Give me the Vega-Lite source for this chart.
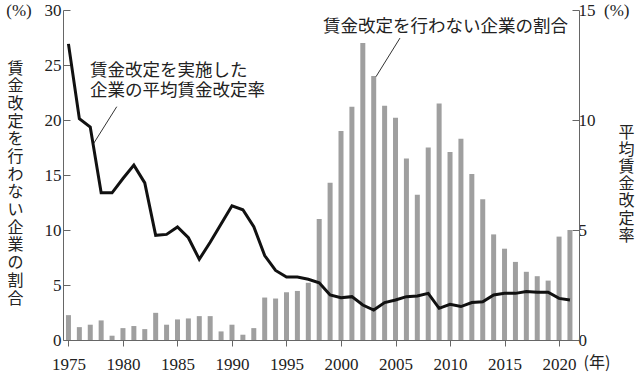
{
  "$schema": "https://vega.github.io/schema/vega-lite/v6.json",
  "width": 516,
  "height": 330,
  "autosize": "none",
  "padding": {"left": 63, "top": 10, "right": 61, "bottom": 32},
  "background": "white",
  "config": {
    "view": {"stroke": null},
    "axis": {
      "grid": false,
      "domainColor": "#666666",
      "tickColor": "#666666",
      "labelFont": "Liberation Serif, Times New Roman, serif",
      "labelFontSize": 17,
      "labelColor": "#222222",
      "titleFont": "Noto Sans CJK JP",
      "titleFontWeight": "normal",
      "titleColor": "#222222"
    }
  },
  "datasets": {
    "bars": [
      {"year": 1975, "v": 2.26}, {"year": 1976, "v": 1.17}, {"year": 1977, "v": 1.39}, {"year": 1978, "v": 1.78},
      {"year": 1979, "v": 0.39}, {"year": 1980, "v": 1.08}, {"year": 1981, "v": 1.27}, {"year": 1982, "v": 0.99},
      {"year": 1983, "v": 2.47}, {"year": 1984, "v": 1.39}, {"year": 1985, "v": 1.87}, {"year": 1986, "v": 1.96},
      {"year": 1987, "v": 2.17}, {"year": 1988, "v": 2.17}, {"year": 1989, "v": 0.78}, {"year": 1990, "v": 1.39},
      {"year": 1991, "v": 0.48}, {"year": 1992, "v": 1.08}, {"year": 1993, "v": 3.86}, {"year": 1994, "v": 3.77},
      {"year": 1995, "v": 4.34}, {"year": 1996, "v": 4.46}, {"year": 1997, "v": 5.2}, {"year": 1998, "v": 11.0},
      {"year": 1999, "v": 14.3}, {"year": 2000, "v": 19.0}, {"year": 2001, "v": 21.2}, {"year": 2002, "v": 27.0},
      {"year": 2003, "v": 24.0}, {"year": 2004, "v": 21.3}, {"year": 2005, "v": 20.2}, {"year": 2006, "v": 16.5},
      {"year": 2007, "v": 13.2}, {"year": 2008, "v": 17.5}, {"year": 2009, "v": 21.5}, {"year": 2010, "v": 17.1},
      {"year": 2011, "v": 18.3}, {"year": 2012, "v": 15.1}, {"year": 2013, "v": 12.8}, {"year": 2014, "v": 9.6},
      {"year": 2015, "v": 8.3}, {"year": 2016, "v": 7.1}, {"year": 2017, "v": 6.2}, {"year": 2018, "v": 5.8},
      {"year": 2019, "v": 5.4}, {"year": 2020, "v": 9.4}, {"year": 2021, "v": 10.0}
    ],
    "rate": [
      {"year": 1975, "rate": 13.46}, {"year": 1976, "rate": 10.06}, {"year": 1977, "rate": 9.68}, {"year": 1978, "rate": 6.69},
      {"year": 1979, "rate": 6.69}, {"year": 1980, "rate": 7.34}, {"year": 1981, "rate": 7.95}, {"year": 1982, "rate": 7.14},
      {"year": 1983, "rate": 4.76}, {"year": 1984, "rate": 4.8}, {"year": 1985, "rate": 5.14}, {"year": 1986, "rate": 4.65},
      {"year": 1987, "rate": 3.67}, {"year": 1988, "rate": 4.44}, {"year": 1989, "rate": 5.27}, {"year": 1990, "rate": 6.1},
      {"year": 1991, "rate": 5.92}, {"year": 1992, "rate": 5.15}, {"year": 1993, "rate": 3.84}, {"year": 1994, "rate": 3.16},
      {"year": 1995, "rate": 2.86}, {"year": 1996, "rate": 2.86}, {"year": 1997, "rate": 2.76}, {"year": 1998, "rate": 2.6},
      {"year": 1999, "rate": 2.05}, {"year": 2000, "rate": 1.92}, {"year": 2001, "rate": 1.97}, {"year": 2002, "rate": 1.59},
      {"year": 2003, "rate": 1.36}, {"year": 2004, "rate": 1.7}, {"year": 2005, "rate": 1.82}, {"year": 2006, "rate": 1.97},
      {"year": 2007, "rate": 2.0}, {"year": 2008, "rate": 2.12}, {"year": 2009, "rate": 1.44}, {"year": 2010, "rate": 1.62},
      {"year": 2011, "rate": 1.52}, {"year": 2012, "rate": 1.7}, {"year": 2013, "rate": 1.74}, {"year": 2014, "rate": 2.05},
      {"year": 2015, "rate": 2.12}, {"year": 2016, "rate": 2.12}, {"year": 2017, "rate": 2.2}, {"year": 2018, "rate": 2.17},
      {"year": 2019, "rate": 2.17}, {"year": 2020, "rate": 1.89}, {"year": 2021, "rate": 1.82}
    ],
    "notes": [
      {"year": 1998.35, "v": 28.48, "label": "賃金改定を行わない企業の割合"},
      {"year": 1976.98, "v": 24.48, "label": "賃金改定を実施した"},
      {"year": 1976.98, "v": 22.66, "label": "企業の平均賃金改定率"}
    ],
    "leaders": [
      {"year": 2005.41, "v": 27.45, "year2": 2003.21, "v2": 23.94},
      {"year": 1979.43, "v": 21.21, "year2": 1977.28, "v2": 17.82}
    ]
  },
  "layer": [
    {
      "layer": [
        {
          "data": {"name": "bars"},
          "mark": {"type": "bar", "width": 5, "color": "#9f9f9f"},
          "encoding": {
            "x": {
              "field": "year", "type": "quantitative",
              "scale": {"domain": [1974.5, 2021.83], "nice": false, "zero": false, "padding": 0},
              "axis": {
                "values": [1975, 1980, 1985, 1990, 1995, 2000, 2005, 2010, 2015, 2020],
                "format": "d",
                "tickSize": 6,
                "labelPadding": 10,
                "title": "(年)",
                "titleFontSize": 16,
                "titleAnchor": "end",
                "titleAlign": "left",
                "titleBaseline": "middle",
                "titleX": 520,
                "titleY": 22
              }
            },
            "y": {
              "field": "v", "type": "quantitative",
              "scale": {"domain": [0, 30], "nice": false},
              "axis": {
                "values": [0, 5, 10, 15, 20, 25, 30],
                "tickSize": -7,
                "labelPadding": 9,
                "labelExpr": "datum.value == 30 ? '(%)\u2002 30' : datum.label",
                "title": ["賃", "金", "改", "定", "を", "行", "わ", "な", "い", "企", "業", "の", "割", "合"],
                "titleAngle": 0,
                "titleFontSize": 16,
                "titleLineHeight": 17.7,
                "titleAlign": "center",
                "titleBaseline": "middle",
                "titleX": -48,
                "titleY": 58
              }
            }
          }
        },
        {
          "data": {"name": "notes"},
          "mark": {"type": "text", "align": "left", "baseline": "middle", "font": "Noto Sans CJK JP", "fontSize": 17.5, "color": "#222222"},
          "encoding": {
            "x": {"field": "year", "type": "quantitative", "scale": {"domain": [1974.5, 2021.83], "nice": false, "zero": false, "padding": 0}},
            "y": {"field": "v", "type": "quantitative", "scale": {"domain": [0, 30], "nice": false}},
            "text": {"field": "label"}
          }
        },
        {
          "data": {"name": "leaders"},
          "mark": {"type": "rule", "color": "#333333", "strokeWidth": 1},
          "encoding": {
            "x": {"field": "year", "type": "quantitative", "scale": {"domain": [1974.5, 2021.83], "nice": false, "zero": false, "padding": 0}},
            "y": {"field": "v", "type": "quantitative", "scale": {"domain": [0, 30], "nice": false}},
            "x2": {"field": "year2"},
            "y2": {"field": "v2"}
          }
        }
      ]
    },
    {
      "data": {"name": "rate"},
      "mark": {"type": "line", "color": "#111111", "strokeWidth": 3},
      "encoding": {
        "x": {"field": "year", "type": "quantitative", "scale": {"domain": [1974.5, 2021.83], "nice": false, "zero": false, "padding": 0}},
        "y": {
          "field": "rate", "type": "quantitative",
          "scale": {"domain": [0, 15], "nice": false},
          "axis": {
            "orient": "right",
            "values": [0, 5, 10, 15],
            "tickSize": -7,
            "labelPadding": 6,
            "labelExpr": "datum.value == 15 ? '15\u2002(%)' : datum.label",
            "title": ["平", "均", "賃", "金", "改", "定", "率"],
            "titleAngle": 0,
            "titleFontSize": 16,
            "titleLineHeight": 17.2,
            "titleAlign": "center",
            "titleBaseline": "middle",
            "titleX": 47,
            "titleY": 122
          }
        }
      }
    }
  ],
  "resolve": {"scale": {"y": "independent"}}
}
